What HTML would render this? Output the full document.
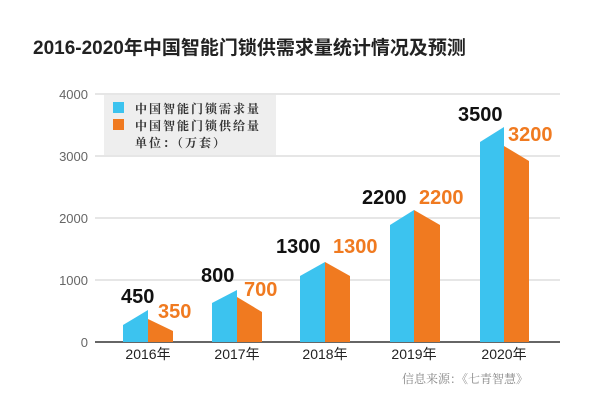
<!DOCTYPE html><html><head><meta charset="utf-8"><style>
body{margin:0;background:#fff;width:600px;height:408px;overflow:hidden;font-family:"Liberation Sans","Noto Sans CJK SC",sans-serif}
</style></head><body>
<svg width="600" height="408" xmlns="http://www.w3.org/2000/svg" font-family="Liberation Sans, Noto Sans CJK SC, sans-serif">
<text x="33" y="54" font-size="19" font-weight="bold" fill="#222">2016-2020年中国智能门锁供需求量统计情况及预测</text>
<g stroke="#ddd" stroke-width="1.5">
<line x1="95" y1="94" x2="560" y2="94"/><line x1="95" y1="156" x2="560" y2="156"/>
<line x1="95" y1="218" x2="560" y2="218"/><line x1="95" y1="280" x2="560" y2="280"/>
</g>
<line x1="95" y1="342" x2="560" y2="342" stroke="#333" stroke-width="1.5"/>
<g font-size="13" fill="#666" text-anchor="end">
<text x="88" y="99">4000</text><text x="88" y="161">3000</text><text x="88" y="223">2000</text><text x="88" y="285">1000</text><text x="88" y="347">0</text>
</g>
<rect x="104" y="95" width="172" height="60" fill="#eee"/>
<rect x="113" y="102" width="11" height="11" fill="#3cc3ef"/>
<rect x="113" y="119" width="11" height="11" fill="#f07a20"/>
<g font-size="12" fill="#333" font-family="Noto Serif CJK SC, serif" font-weight="bold" letter-spacing="2">
<text x="135" y="113">中国智能门锁需求量</text><text x="135" y="130">中国智能门锁供给量</text><text x="135" y="147">单位：（万套）</text>
</g>
<polygon points="123,342 123,325 148,310 148,342" fill="#3cc3ef"/>
<polygon points="148,342 148,319 173,331 173,342" fill="#f07a20"/>
<polygon points="212,342 212,303 237,290 237,342" fill="#3cc3ef"/>
<polygon points="237,342 237,297 262,312 262,342" fill="#f07a20"/>
<polygon points="300,342 300,276 325,262 325,342" fill="#3cc3ef"/>
<polygon points="325,342 325,262 350,276 350,342" fill="#f07a20"/>
<polygon points="390,342 390,225 414,210 414,342" fill="#3cc3ef"/>
<polygon points="414,342 414,210 440,225 440,342" fill="#f07a20"/>
<polygon points="480,342 480,142 504,127 504,342" fill="#3cc3ef"/>
<polygon points="504,342 504,146 529,161 529,342" fill="#f07a20"/>
<g font-size="20" font-weight="bold" fill="#111">
<text x="121" y="303">450</text><text x="201" y="282">800</text><text x="276" y="253">1300</text><text x="362" y="204">2200</text><text x="458" y="121">3500</text>
</g>
<g font-size="20" font-weight="bold" fill="#f07a20">
<text x="158" y="318">350</text><text x="244" y="296">700</text><text x="333" y="253">1300</text><text x="419" y="204">2200</text><text x="508" y="141">3200</text>
</g>
<g font-size="14" fill="#222" text-anchor="middle">
<text x="148" y="359">2016年</text><text x="237" y="359">2017年</text><text x="325" y="359">2018年</text><text x="414" y="359">2019年</text><text x="504" y="359">2020年</text>
</g>
<text x="402" y="383" font-size="12" fill="#888" font-family="Noto Serif CJK SC, serif">信息来源：《七青智慧》</text>
</svg>
</body></html>
